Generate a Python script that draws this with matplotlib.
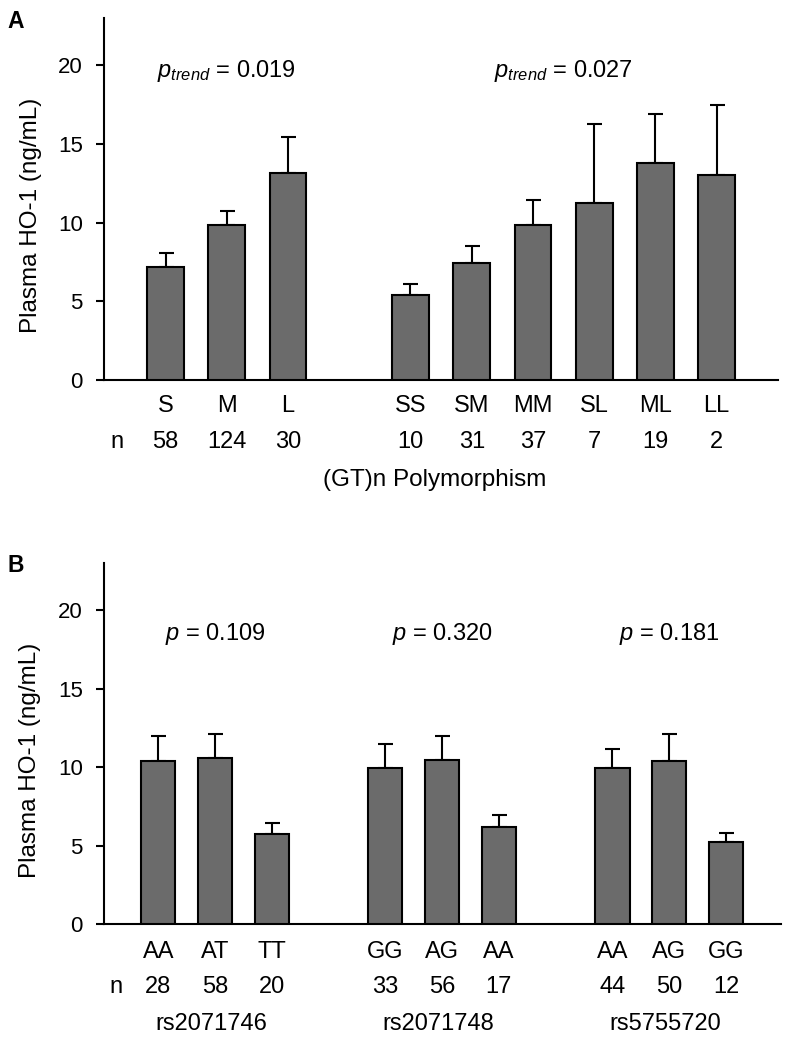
import matplotlib
matplotlib.use("Agg")
import matplotlib.pyplot as plt
import numpy as np

plt.rcParams['font.family'] = ['Liberation Sans', 'DejaVu Sans']
plt.rcParams['mathtext.fontset'] = 'custom'
plt.rcParams['mathtext.rm'] = 'Liberation Sans'
plt.rcParams['mathtext.it'] = 'Liberation Sans:italic'

# ---- Panel A data ----
a_groups = [["S", "M", "L"], ["SS", "SM", "MM", "SL", "ML", "LL"]]
a_n = [[58, 124, 30], [10, 31, 37, 7, 19, 2]]
a_mean = [[7.22, 9.85, 13.14], [5.41, 7.43, 9.83, 11.27, 13.80, 13.01]]
a_err = [[0.85, 0.89, 2.29], [0.70, 1.11, 1.63, 5.02, 3.14, 4.46]]
a_ptext = [r"$p_{trend}$ = 0.019", r"$p_{trend}$ = 0.027"]
a_xlabel = "(GT)n Polymorphism"

# ---- Panel B data ----
b_groups = [["AA", "AT", "TT"], ["GG", "AG", "AA"], ["AA", "AG", "GG"]]
b_n = [[28, 58, 20], [33, 56, 17], [44, 50, 12]]
b_mean = [[10.37, 10.59, 5.75], [9.97, 10.44, 6.15], [9.93, 10.39, 5.20]]
b_err = [[1.64, 1.49, 0.68], [1.47, 1.55, 0.77], [1.19, 1.69, 0.61]]
b_ptext = [r"$p$ = 0.109", r"$p$ = 0.320", r"$p$ = 0.181"]
b_snps = ["rs2071746", "rs2071748", "rs5755720"]

ylabel = "Plasma HO-1 (ng/mL)"
yticks = [0, 5, 10, 15, 20]

BAR_COLOR = "#6b6b6b"
TICK_FS = 16
ROW_FS = 17
LABEL_FS = 17.5
P_FS = 17

fig = plt.figure(figsize=(7.93, 10.5), dpi=100)


def positions(groups):
    pos = []
    start = 0
    for g in groups:
        pos.append([start + i for i in range(len(g))])
        start += len(g) + 1
    return pos


def draw_panel(ax, groups, ns, means, errs, rows_y, xlim):
    pos = positions(groups)
    for p, g, m, e in zip(pos, groups, means, errs):
        ax.bar(p, m, width=0.6, color=BAR_COLOR, edgecolor="black",
               linewidth=1.5, zorder=3)
        ax.errorbar(p, m, yerr=[np.zeros(len(e)), e], fmt="none",
                    ecolor="black", elinewidth=1.5, capsize=5.4,
                    capthick=1.5, zorder=2)
    tr = ax.get_xaxis_transform()
    for p, g, n in zip(pos, groups, ns):
        for x, lab, nn in zip(p, g, n):
            ax.text(x, rows_y[0], lab, transform=tr, ha="center",
                    va="center", fontsize=ROW_FS)
            ax.text(x, rows_y[1], str(nn), transform=tr, ha="center",
                    va="center", fontsize=ROW_FS)
    ax.set_xlim(*xlim)
    ax.text(xlim[0] + 0.2, rows_y[1], "n", transform=tr, ha="center",
            va="center", fontsize=ROW_FS)
    ax.set_ylim(0, 23)
    ax.set_yticks(yticks)
    ax.set_xticks([])
    for s in ["top", "right"]:
        ax.spines[s].set_visible(False)
    for s in ["left", "bottom"]:
        ax.spines[s].set_linewidth(1.5)
    ax.tick_params(axis="y", direction="out", length=5.5, width=1.5,
                   labelsize=TICK_FS, pad=10)
    ax.set_ylabel(ylabel, fontsize=LABEL_FS)
    return pos


# Panel A
axA = fig.add_axes([0.1315, 0.638, 0.8495, 0.3446])
posA = draw_panel(axA, a_groups, a_n, a_mean, a_err,
                  (-0.0725, -0.171), (-1.0, 10.0))
axA.text(1, 19.65, a_ptext[0], ha="center", va="center", fontsize=P_FS)
axA.text(6.5, 19.65, a_ptext[1], ha="center", va="center", fontsize=P_FS)
axA.text(4.4, -0.2765, a_xlabel, transform=axA.get_xaxis_transform(),
         ha="center", va="center", fontsize=LABEL_FS)
axA.yaxis.set_label_coords(-0.093, 0.456)
fig.text(0.020, 1 - 21.3 / 1050, "A", fontsize=16.5, fontweight="bold",
         ha="center", va="center")

# Panel B
axB = fig.add_axes([0.1315, 0.12, 0.8535, 0.3438])
posB = draw_panel(axB, b_groups, b_n, b_mean, b_err,
                  (-0.0767, -0.1753), (-0.95, 10.97))
trB = axB.get_xaxis_transform()
for p, pt, snp in zip(posB, b_ptext, b_snps):
    axB.text(p[1], 18.45, pt, ha="center", va="center", fontsize=P_FS)
    axB.text(p[1] - 0.07, -0.278, snp, transform=trB, ha="center",
             va="center", fontsize=ROW_FS)
axB.yaxis.set_label_coords(-0.093, 0.454)
fig.text(0.020, 1 - 566 / 1050, "B", fontsize=16.5, fontweight="bold",
         ha="center", va="center")

fig.savefig("out.png", dpi=100)
